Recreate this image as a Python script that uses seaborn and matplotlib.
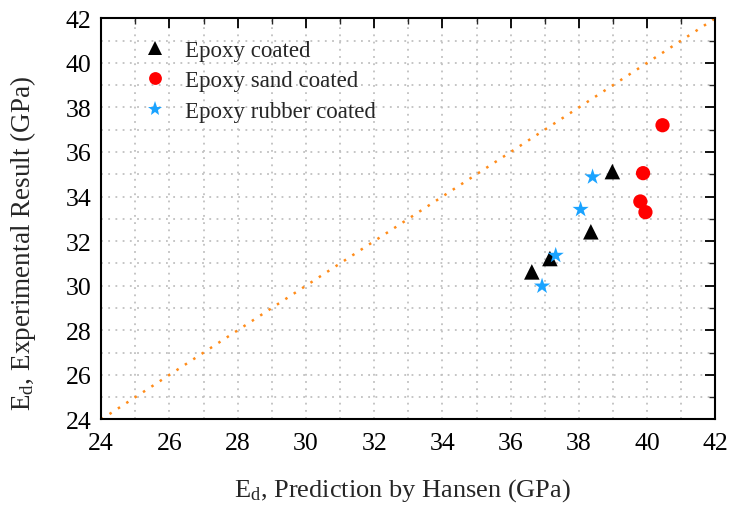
import matplotlib
matplotlib.use("Agg")
import matplotlib.pyplot as plt
import seaborn as sns
import pandas as pd
from matplotlib.ticker import MultipleLocator

sns.set_theme(style="white")
plt.rcParams['font.family'] = ['Liberation Serif', 'DejaVu Serif']
plt.rcParams['mathtext.fontset'] = 'custom'
plt.rcParams['mathtext.rm'] = 'Liberation Serif'
plt.rcParams['mathtext.it'] = 'Liberation Serif:italic'

groups = ["Epoxy coated", "Epoxy sand coated", "Epoxy rubber coated"]
epoxy_x = [36.62, 37.15, 38.35, 38.98]
epoxy_y = [30.62, 31.22, 32.42, 35.12]
sand_x = [40.45, 39.88, 39.8, 39.95]
sand_y = [37.2, 35.05, 33.78, 33.3]
rubber_x = [36.92, 37.32, 38.05, 38.4]
rubber_y = [29.98, 31.36, 33.42, 34.88]

df = pd.DataFrame({
    "x": epoxy_x + sand_x + rubber_x,
    "y": epoxy_y + sand_y + rubber_y,
    "g": [groups[0]] * 4 + [groups[1]] * 4 + [groups[2]] * 4,
})

fig = plt.figure(figsize=(7.33, 5.06), dpi=100)
ax = fig.add_axes([0.138, 0.169, 0.838, 0.793])

ax.plot([24, 42], [24, 42], linestyle=(0, (1, 3)), color="#ff8c1a", lw=1.8, zorder=1)

sns.scatterplot(data=df, x="x", y="y", hue="g", style="g", size="g",
                hue_order=groups, style_order=groups, size_order=groups,
                palette={groups[0]: "black", groups[1]: "#ff0000", groups[2]: "#1aa3ff"},
                markers={groups[0]: "^", groups[1]: "o", groups[2]: "*"},
                sizes={groups[0]: 125, groups[1]: 105, groups[2]: 150},
                linewidth=0, ax=ax, zorder=3)

ax.set_xlim(24, 42)
ax.set_ylim(24, 42)
ax.xaxis.set_major_locator(MultipleLocator(2))
ax.yaxis.set_major_locator(MultipleLocator(2))
ax.xaxis.set_minor_locator(MultipleLocator(1))
ax.yaxis.set_minor_locator(MultipleLocator(1))
ax.grid(which="both", color="#c0c0c0", linestyle=(0, (1, 3)), lw=1.3)
ax.set_axisbelow(True)
ax.tick_params(which="major", direction="in", length=7, width=1.3, top=True, right=True,
               labelsize=18.5, colors="black", pad=7)
ax.tick_params(which="minor", direction="in", length=4, width=1.0, top=True, right=True)
ax.tick_params(axis="x", which="major", pad=9)
for s in ax.spines.values():
    s.set_color("black")
    s.set_linewidth(1.5)

ax.set_xlabel(r"E$_\mathrm{d}$, Prediction by Hansen (GPa)", fontsize=19)
ax.set_ylabel(r"E$_\mathrm{d}$, Experimental Result (GPa)", fontsize=19.5)
ax.xaxis.set_label_coords(0.49, -0.142)
ax.yaxis.set_label_coords(-0.103, 0.44)

leg = ax.legend(loc="upper left", bbox_to_anchor=(0.016, 0.998), frameon=False, fontsize=16.5,
                handletextpad=0.35, labelspacing=0.42, markerscale=0.9)

fig.savefig("out.png", dpi=100)
